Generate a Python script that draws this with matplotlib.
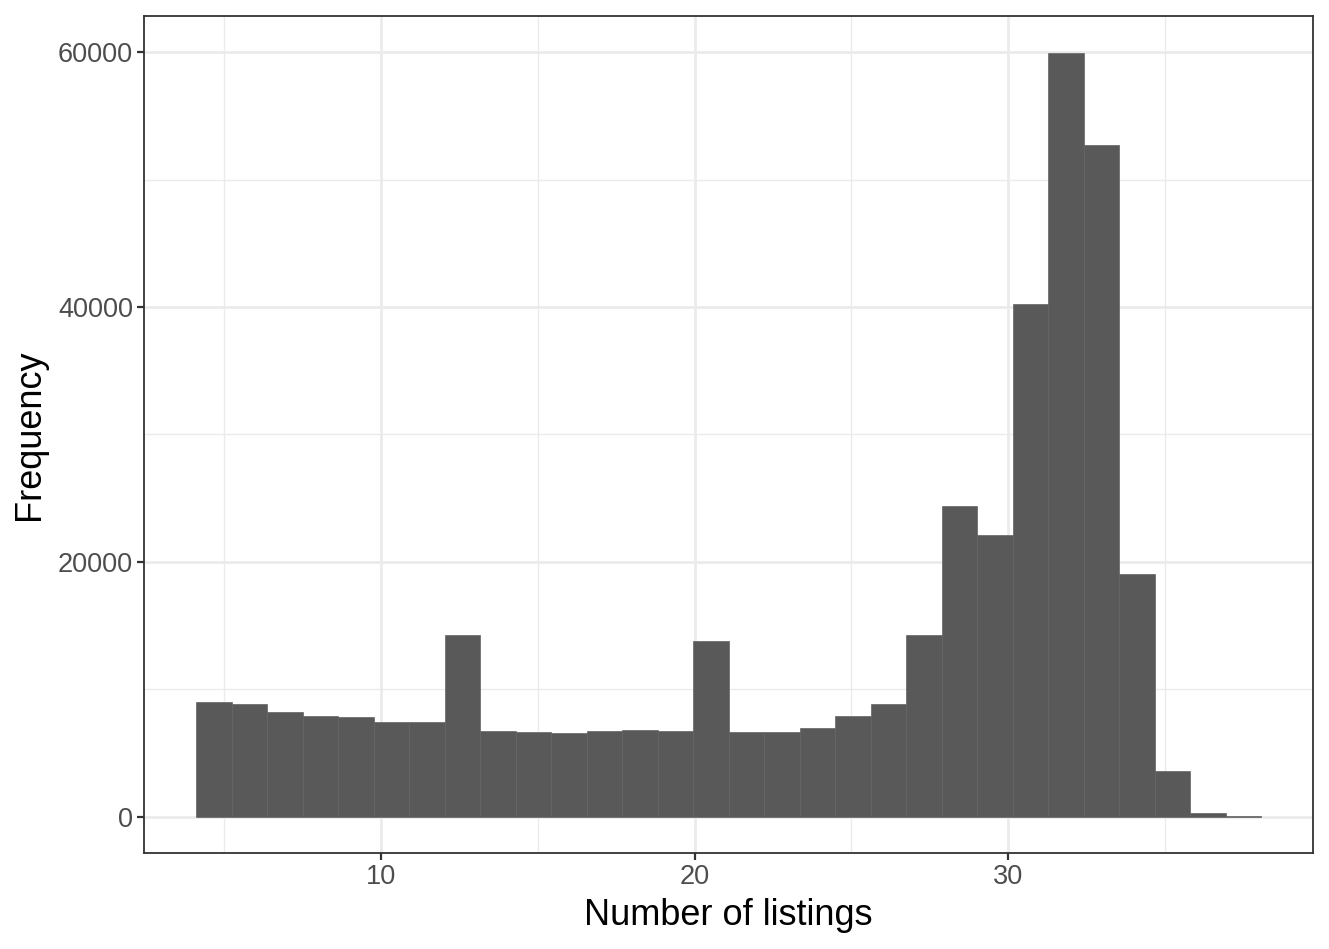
import numpy as np
import matplotlib.pyplot as plt
import matplotlib.ticker as mticker

plt.rcParams["font.family"] = ["Liberation Sans", "DejaVu Sans"]

# histogram data (30 bins)
bin_lo = 4.10
bin_hi = 38.07
counts = [9000, 8860, 8240, 7920, 7840, 7450, 7450, 14270, 6750, 6700,
          6590, 6750, 6820, 6780, 13800, 6700, 6670, 6980, 7920, 8860,
          14270, 24390, 22120, 40240, 59920, 52700, 19060, 3610, 310, 40]
x_ticks = [10, 20, 30]
y_ticks = [0, 20000, 40000, 60000]

edges = np.linspace(bin_lo, bin_hi, len(counts) + 1)

fig = plt.figure(figsize=(13.29, 9.49), dpi=100)
ax = fig.add_axes([0.1084, 0.1012, 0.8796, 0.8819])

ax.bar(edges[:-1], counts, width=np.diff(edges), align="edge",
       color="#595959", edgecolor="#636363", linewidth=0.5, zorder=3)

ax.set_xlim(2.44, 39.73)
ax.set_ylim(-2824, 62824)

ax.xaxis.set_major_locator(mticker.FixedLocator(x_ticks))
ax.xaxis.set_minor_locator(mticker.FixedLocator([5, 15, 25, 35]))
ax.yaxis.set_major_locator(mticker.FixedLocator(y_ticks))
ax.yaxis.set_minor_locator(mticker.FixedLocator([10000, 30000, 50000]))

ax.grid(which="major", color="#EBEBEB", linewidth=2.0, zorder=0)
ax.grid(which="minor", color="#EBEBEB", linewidth=1.0, zorder=0)
ax.set_axisbelow(True)

for s in ax.spines.values():
    s.set_color("#333333")
    s.set_linewidth(1.3)

ax.tick_params(which="major", length=5, width=1.6, color="#333333",
               labelcolor="#4D4D4D", labelsize=19.5, pad=3)
ax.tick_params(which="minor", length=0)

ax.set_xlabel("Number of listings", fontsize=26, labelpad=6)
ax.set_ylabel("Frequency", fontsize=26, labelpad=8)

fig.savefig("out.png", dpi=100)
